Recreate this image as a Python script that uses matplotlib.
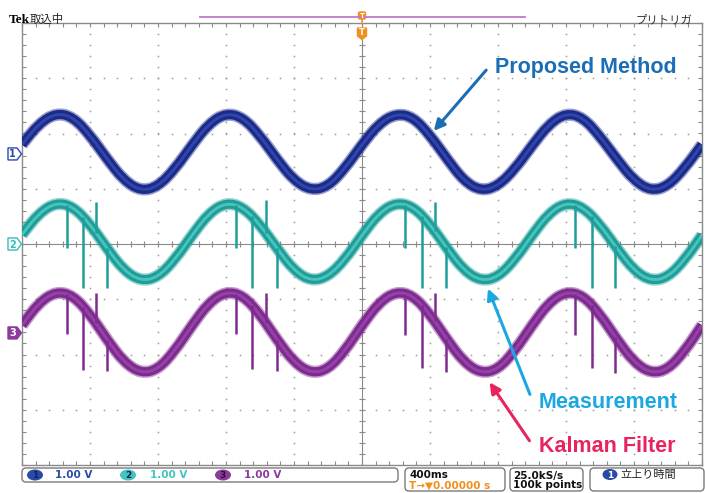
import numpy as np
import matplotlib
matplotlib.use("Agg")
import matplotlib.pyplot as plt
from matplotlib.patches import FancyBboxPatch, Polygon, Ellipse, PathPatch
from matplotlib.path import Path

# ---------------- data (screen divisions) ----------------
t_div = [-5.0, -4.75, -4.5, -4.25, -4.0, -3.75, -3.5, -3.25, -3.0, -2.75,
         -2.5, -2.25, -2.0, -1.75, -1.5, -1.25, -1.0, -0.75, -0.5, -0.25,
         0.0, 0.25, 0.5, 0.75, 1.0, 1.25, 1.5, 1.75, 2.0, 2.25,
         2.5, 2.75, 3.0, 3.25, 3.5, 3.75, 4.0, 4.25, 4.5, 4.75, 5.0]

ch1_proposed = [1.80, 2.18, 2.37, 2.30, 1.97, 1.54, 1.15, 0.96, 1.04, 1.36,
                1.79, 2.18, 2.37, 2.29, 1.96, 1.53, 1.15, 0.97, 1.04, 1.37,
                1.80, 2.18, 2.36, 2.30, 1.97, 1.54, 1.14, 0.96, 1.05, 1.36,
                1.78, 2.17, 2.37, 2.29, 1.95, 1.53, 1.15, 0.96, 1.05, 1.38,
                1.80]

ch2_measure = [0.17, 0.56, 0.75, 0.68, 0.36, -0.08, -0.48, -0.67, -0.60, -0.28,
               0.16, 0.56, 0.75, 0.67, 0.35, -0.08, -0.48, -0.67, -0.59, -0.28,
               0.16, 0.56, 0.75, 0.68, 0.36, -0.08, -0.48, -0.67, -0.60, -0.28,
               0.16, 0.56, 0.75, 0.67, 0.35, -0.08, -0.48, -0.67, -0.60, -0.28,
               0.16]

ch3_kalman = [-1.47, -1.06, -0.86, -0.93, -1.27, -1.73, -2.14, -2.34, -2.27, -1.93,
              -1.47, -1.06, -0.86, -0.93, -1.27, -1.73, -2.14, -2.34, -2.27, -1.93,
              -1.47, -1.06, -0.86, -0.93, -1.27, -1.73, -2.14, -2.34, -2.27, -1.93,
              -1.47, -1.06, -0.86, -0.93, -1.27, -1.73, -2.14, -2.34, -2.27, -1.93,
              -1.47]

# outliers in the measurement (position, level reached)
ch2_spike_t = [-4.34, -4.10, -3.91, -3.75, -1.85, -1.62, -1.41, -1.25,
               0.63, 0.88, 1.07, 1.24, 3.13, 3.38, 3.72]
ch2_spike_v = [-0.07, -0.80, 0.76, -0.80, -0.07, -0.80, 0.80, -0.80,
               -0.07, -0.80, 0.76, -0.80, -0.07, -0.80, -0.80]

ch3_spike_t = [-4.34, -4.10, -3.91, -3.75, -1.85, -1.62, -1.41, -1.25,
               0.63, 0.88, 1.07, 1.24, 3.13, 3.38, 3.72]
ch3_spike_v = [-1.62, -2.28, -0.88, -2.30, -1.63, -2.26, -0.88, -2.30,
               -1.64, -2.25, -0.88, -2.32, -1.65, -2.24, -2.33]

channel_labels = ["1", "2", "3"]
channel_scale = ["1.00 V", "1.00 V", "1.00 V"]
channel_offset = [1.63, 0.0, -1.61]

# ---------------- figure ----------------
W, H = 705, 493
fig = plt.figure(figsize=(W / 100, H / 100), dpi=100)
fig.patch.set_facecolor("white")
L, R, T, B = 22, 702, 23, 465
ax = fig.add_axes([L / W, 1 - B / H, (R - L) / W, (B - T) / H])
ax.set_xlim(-5, 5)
ax.set_ylim(-4, 4)

GRID = "#9c9c9c"
gx = np.arange(-5, 5.001, 0.2)
gy = np.arange(-4, 4.001, 0.2)
for xv in [-4, -3, -2, -1, 1, 2, 3, 4]:
    ax.plot(np.full_like(gy, xv), gy, ls="none", marker="s", ms=1.1, mew=0, color=GRID, zorder=1)
for yv in [-3, -2, -1, 1, 2, 3]:
    ax.plot(gx, np.full_like(gx, yv), ls="none", marker="s", ms=1.1, mew=0, color=GRID, zorder=1)
ax.axhline(0, color="#8a8a8a", lw=0.8, zorder=1)
ax.axvline(0, color="#8a8a8a", lw=0.8, zorder=1)
ax.plot(gx, np.zeros_like(gx), ls="none", marker="|", ms=4, mew=0.8, color="#8a8a8a", zorder=1)
ax.plot(np.zeros_like(gy), gy, ls="none", marker="_", ms=4, mew=0.8, color="#8a8a8a", zorder=1)

ax.set_xticks(gx)
ax.set_yticks(gy)
ax.tick_params(direction="in", length=3, width=0.8, color="#8a8a8a",
               top=True, right=True, labelbottom=False, labelleft=False)
for s in ax.spines.values():
    s.set_color("#8a8a8a")
    s.set_linewidth(1.0)


def smooth_path(x, y):
    p = np.column_stack([x, y])
    verts = [p[0], (p[0] + p[1]) / 2]
    codes = [Path.MOVETO, Path.LINETO]
    for i in range(1, len(p) - 1):
        verts += [p[i], (p[i] + p[i + 1]) / 2]
        codes += [Path.CURVE3, Path.CURVE3]
    verts.append(p[-1])
    codes.append(Path.LINETO)
    return Path(verts, codes)


def trace(y, edge, core):
    path = smooth_path(t_div, y)
    for lw, col, a, z in [(8.8, edge, 0.45, 3), (6.6, edge, 1.0, 3.1), (2.0, core, 0.8, 3.2)]:
        ax.add_patch(PathPatch(path, fill=False, ec=col, lw=lw, alpha=a, zorder=z,
                               capstyle="butt", joinstyle="round"))

trace(ch1_proposed, "#1c2a8c", "#3450b0")
trace(ch2_measure, "#1f9e99", "#55cdc5")
trace(ch3_kalman, "#7e2b90", "#9c48ae")

s2_start = np.interp(ch2_spike_t, t_div, ch2_measure)
ax.vlines(ch2_spike_t, s2_start, ch2_spike_v, color="#1f9e99", lw=1.8, zorder=5)
s3_start = np.interp(ch3_spike_t, t_div, ch3_kalman)
ax.vlines(ch3_spike_t, s3_start, ch3_spike_v, color="#7e2b90", lw=1.8, zorder=5)

# ---------------- overlay (pixel coordinates) ----------------
ov = fig.add_axes([0, 0, 1, 1])
ov.set_xlim(0, W)
ov.set_ylim(H, 0)
ov.axis("off")
ov.patch.set_alpha(0)

JP = ["Noto Sans CJK JP", "DejaVu Sans"]
ov.text(9, 23, "Tek", family="Liberation Serif", weight="bold", fontsize=9.5, va="baseline", ha="left")
ov.text(30, 23, "取込中", family=JP, fontsize=8.2, va="baseline", ha="left", color="#222222")
ov.text(692, 23, "プリトリガ", family=JP, fontsize=8.2, va="baseline", ha="right", color="#333333")
ov.plot([200, 525], [17, 17], color="#c07ac8", lw=1.3)

ORANGE = "#f0901e"
ov.add_patch(FancyBboxPatch((358.5, 12), 7, 7, boxstyle="round,pad=0,rounding_size=1.5",
                            fc=ORANGE, ec=ORANGE))
ov.plot([362, 362], [19, 23], color=ORANGE, lw=1.2)
ov.text(362, 15.7, "T", color="white", fontsize=5, weight="bold", ha="center", va="center")
ov.add_patch(Polygon([[357.5, 28], [366.5, 28], [366.5, 36], [362, 39.5], [357.5, 36]],
                     closed=True, fc=ORANGE, ec=ORANGE))
ov.text(362, 32.5, "T", color="white", fontsize=6, weight="bold", ha="center", va="center")

ch_cols = ["#2a4aa8", "#35bdb8", "#8c3a9c"]
for lab, off, col, i in zip(channel_labels, channel_offset, ch_cols, range(3)):
    yp = (B + T) / 2 - off * (B - T) / 8
    pts = [[8, yp - 6], [17, yp - 6], [21.5, yp], [17, yp + 6], [8, yp + 6]]
    filled = (i == 2)
    ov.add_patch(Polygon(pts, closed=True, fc=col if filled else "white", ec=col, lw=1.0))
    ov.text(12.5, yp + 0.5, lab, color="white" if filled else col, fontsize=7,
            weight="bold", ha="center", va="center")

# annotations
ov.annotate("", xy=(432, 133), xytext=(488, 68),
            arrowprops=dict(arrowstyle="-|>", color="#1b6db5", lw=2.2, mutation_scale=16))
ov.text(495, 68, "Proposed Method", color="#1b6db5", fontsize=15.5, family="Liberation Sans",
        weight="bold", ha="left", va="center")
ov.annotate("", xy=(487, 286), xytext=(531, 397),
            arrowprops=dict(arrowstyle="-|>", color="#1ba8e0", lw=2.2, mutation_scale=16))
ov.text(539, 402, "Measurement", color="#1ba8e0", fontsize=15.5, family="Liberation Sans",
        weight="bold", ha="left", va="center")
ov.annotate("", xy=(488, 380), xytext=(531, 443),
            arrowprops=dict(arrowstyle="-|>", color="#e8245e", lw=2.2, mutation_scale=16))
ov.text(539, 446, "Kalman Filter", color="#e8245e", fontsize=15.5, family="Liberation Sans",
        weight="bold", ha="left", va="center")

# bottom status bar
def rbox(x0, y0, x1, y1):
    ov.add_patch(FancyBboxPatch((x0, y0), x1 - x0, y1 - y0,
                                boxstyle="round,pad=0,rounding_size=4",
                                fc="white", ec="#7a7a7a", lw=1.0))

rbox(22, 468, 398, 482)
for lab, sc, col, ex, tx in zip(channel_labels, channel_scale, ["#2a4aa8", "#45c3be", "#8c3a9c"],
                                [35, 128, 223], [55, 150, 244]):
    ov.add_patch(Ellipse((ex, 475), 16, 11, fc=col, ec="none"))
    ov.text(ex, 475.5, lab, color="#14205a" if lab != "3" else "#2a0a30", fontsize=6.5,
            weight="bold", ha="center", va="center")
    ov.text(tx, 475.5, sc, color=col, fontsize=7.5, weight="bold", ha="left", va="center")

rbox(405, 468, 505, 491)
ov.text(409, 475.5, "400ms", fontsize=7.5, weight="bold", ha="left", va="center", color="#111111")
ov.text(409, 485.5, "T\u2192\u25bc0.00000 s", fontsize=7.5, weight="bold", ha="left", va="center",
        color=ORANGE)
rbox(510, 468, 583, 491)
ov.text(513, 475.5, "25.0kS/s", fontsize=7.5, weight="bold", ha="left", va="center", color="#111111")
ov.text(513, 485.5, "100k points", fontsize=7.5, weight="bold", ha="left", va="center", color="#111111")
rbox(590, 468, 704, 491)
ov.add_patch(Ellipse((610, 474.5), 15, 11, fc="#2a4aa8", ec="none"))
ov.text(610, 475, "1", color="white", fontsize=6.5, weight="bold", ha="center", va="center")
ov.text(620, 475, "立上り時間", family=JP, fontsize=8, ha="left", va="center", color="#222222")

fig.savefig("out.png", dpi=100, facecolor="white")
